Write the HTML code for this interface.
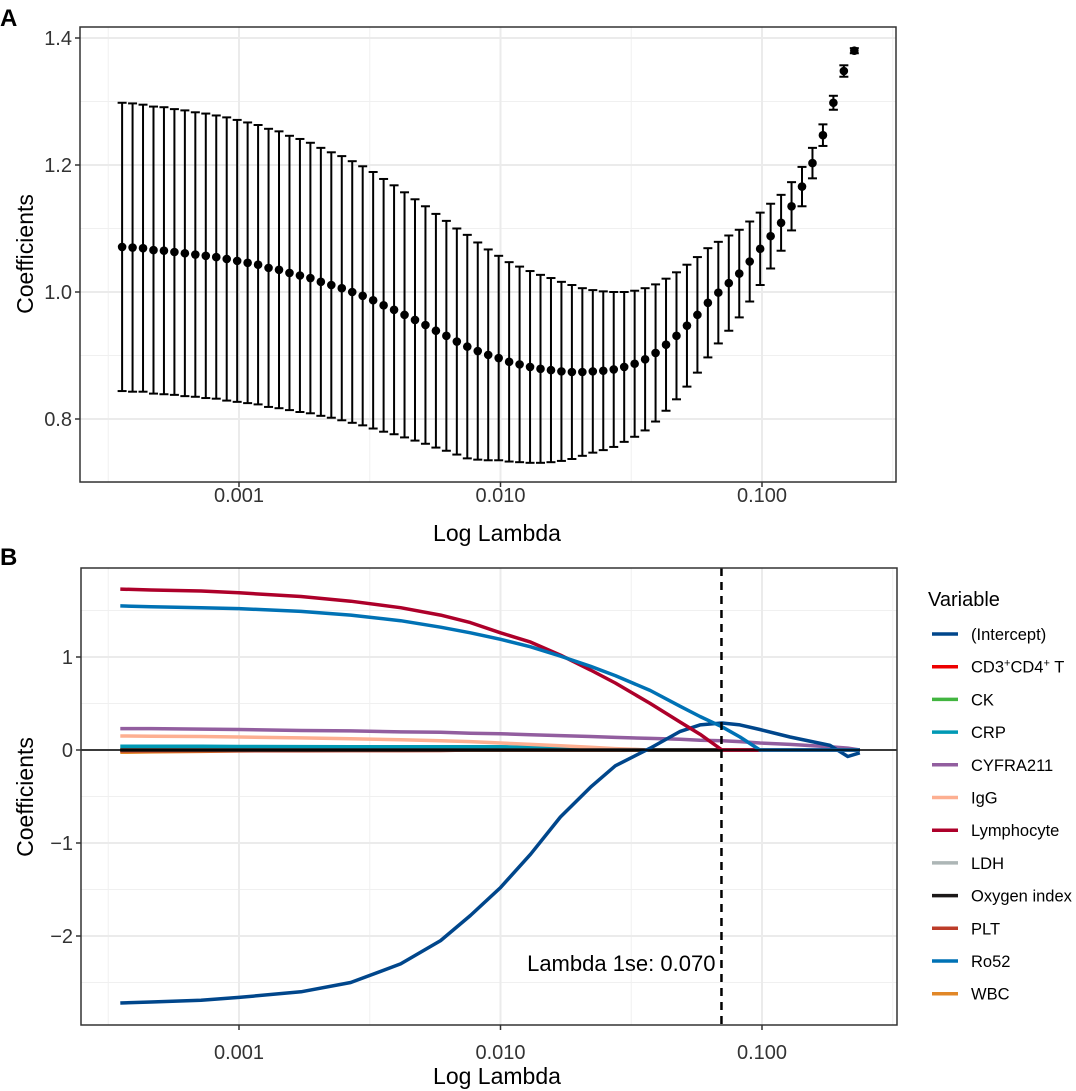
<!DOCTYPE html>
<html><head><meta charset="utf-8"><style>
body{margin:0;background:#fff;}
svg{display:block;font-family:"Liberation Sans",Arial,sans-serif;}
</style></head><body>
<svg id="chart" width="1076" height="1091" viewBox="0 0 1076 1091" xmlns="http://www.w3.org/2000/svg">
<text x="0" y="26" font-size="24" font-weight="bold">A</text>
<text x="0" y="565" font-size="24" font-weight="bold">B</text>
<g id="pa"></g>
<g id="pb"></g>
</svg>
<script>
const logLambdaA=[-3.447,-3.407,-3.367,-3.327,-3.287,-3.247,-3.207,-3.167,-3.127,-3.087,-3.047,-3.007,-2.967,-2.927,-2.887,-2.847,-2.807,-2.767,-2.727,-2.687,-2.647,-2.607,-2.567,-2.527,-2.487,-2.447,-2.407,-2.367,-2.327,-2.287,-2.247,-2.207,-2.167,-2.127,-2.087,-2.047,-2.007,-1.967,-1.927,-1.887,-1.847,-1.807,-1.767,-1.727,-1.687,-1.647,-1.607,-1.567,-1.527,-1.487,-1.447,-1.407,-1.367,-1.327,-1.287,-1.247,-1.207,-1.167,-1.127,-1.087,-1.047,-1.007,-0.967,-0.927,-0.887,-0.847,-0.807,-0.767,-0.727,-0.687,-0.647];
const cvMean=[1.071,1.070,1.069,1.066,1.065,1.063,1.061,1.059,1.057,1.055,1.052,1.049,1.046,1.043,1.038,1.035,1.030,1.026,1.022,1.016,1.011,1.006,1.000,0.994,0.987,
0.979,0.972,0.964,0.956,0.948,0.939,0.931,0.922,0.914,0.907,0.901,0.896,0.890,0.886,0.882,0.879,0.877,0.875,0.874,0.874,0.875,0.876,0.878,0.882,0.887,
0.894,0.904,0.917,0.931,0.947,0.964,0.983,0.999,1.014,1.029,1.048,1.068,1.088,1.109,1.135,1.166,1.203,1.247,1.298,1.348,1.380];
const cvSd=[.227,.227,.226,.226,.226,.225,.225,.224,.224,.223,.223,.222,.221,
.220,.219,.218,.216,.215,.213,.211,.209,.208,.206,.204,.202,
.199,.196,.193,.190,.187,
.184,.181,.178,.176,.171,.166,.161,.157,
.154,.151,.148,.145,.141,.137,.132,.128,
.125,.122,.118,.115,.112,.108,.104,.100,
.096,.091,.086,.080,.075,.069,.063,.057,
.051,.044,.038,.031,.024,.017,.011,.009,.004];
const yTicksA=[0.8,1.0,1.2,1.4];
const yTickLabelsA=["0.8","1.0","1.2","1.4"];
const xTicks=[-3,-2,-1];
const xTickLabels=["0.001","0.010","0.100"];

const logLambdaB=[-3.454,-3.336,-3.145,-3.000,-2.763,-2.573,-2.382,-2.229,-2.115,-2.000,-1.885,-1.771,-1.656,-1.561,-1.427,-1.313,-1.237,-1.153,-1.084,-1.008,-0.893,-0.740,-0.672,-0.626];
const seriesNames=["(Intercept)","CD3⁺CD4⁺ T","CK","CRP","CYFRA211","IgG","Lymphocyte","LDH","Oxygen index","PLT","Ro52","WBC"];
const seriesColors=["#00468B","#ED0000","#42B540","#0099B4","#925E9F","#FDAF91","#AD002A","#ADB6B6","#1B1919","#BC3C29","#0072B5","#E18727"];
const cIntercept=[-2.72,-2.71,-2.69,-2.66,-2.60,-2.50,-2.30,-2.05,-1.78,-1.48,-1.12,-0.72,-0.40,-0.17,0.02,0.20,0.27,0.29,0.27,0.22,0.14,0.05,-0.07,-0.03];
const cCD3=[0,0,0,0,0,0,0,0,0,0,0,0,0,0,0,0,0,0,0,0,0,0,0,0];
const cCK=[0,0,0,0,0,0,0,0,0,0,0,0,0,0,0,0,0,0,0,0,0,0,0,0];
const cCRP=[0.04,0.04,0.04,0.038,0.037,0.036,0.036,0.035,0.035,0.035,0.03,0.025,0.02,0.01,0,0,0,0,0,0,0,0,0,0];
const cCYFRA=[0.23,0.23,0.225,0.22,0.21,0.205,0.195,0.19,0.18,0.175,0.165,0.155,0.145,0.135,0.125,0.115,0.105,0.10,0.09,0.075,0.06,0.035,0.02,0];
const cIgG=[0.15,0.148,0.145,0.14,0.13,0.12,0.11,0.10,0.09,0.075,0.06,0.045,0.03,0.015,0,0,0,0,0,0,0,0,0,0];
const cLymph=[1.73,1.72,1.71,1.69,1.65,1.60,1.53,1.45,1.37,1.26,1.16,1.02,0.86,0.72,0.50,0.30,0.17,0,0,0,0,0,0,0];
const cLDH=[0,0,0,0,0,0,0,0,0,0,0,0,0,0,0,0,0,0,0,0,0,0,0,0];
const cOxygen=[0,0,0,0,0,0,0,0,0,0,0,0,0,0,0,0,0,0,0,0,0,0,0,0];
const cPLT=[-0.01,-0.01,-0.008,-0.008,-0.007,-0.006,-0.006,-0.005,0,0,0,0,0,0,0,0,0,0,0,0,0,0,0,0];
const cRo52=[1.55,1.54,1.53,1.52,1.49,1.45,1.39,1.32,1.26,1.19,1.11,1.01,0.90,0.80,0.64,0.47,0.36,0.25,0.14,0,0,0,0,0];
const cWBC=[-0.025,-0.02,-0.015,-0.01,-0.005,0,0,0,0,0,0,0,0,0,0,0,0,0,0,0,0,0,0,0];
const yTicksB=[-2,-1,0,1];
const yTickLabelsB=["−2","−1","0","1"];
const lambda1se=-1.155;

const NS="http://www.w3.org/2000/svg";
function mk(parent,tag,attrs){const e=document.createElementNS(NS,tag);for(const k in attrs)e.setAttribute(k,attrs[k]);parent.appendChild(e);return e;}
function xS(l){return 500.5+(l+2)*261.5;}
const TICK=20, TITLE=23;
// Panel A
const pa=document.getElementById('pa');
const A={l:80,r:896,t:27,b:482};
function yA(v){return 38+(1.4-v)*635;}
[0.7,0.9,1.1,1.3].forEach(v=>{const g=mk(pa,'line',{x1:A.l,x2:A.r,y1:yA(v),y2:yA(v),stroke:'#f0f0f0','stroke-width':1});

});
[-3.5,-2.5,-1.5,-0.5].forEach(v=>{const g=mk(pa,'line',{x1:xS(v),x2:xS(v),y1:A.t,y2:A.b,stroke:'#f0f0f0','stroke-width':1});

});
yTicksA.forEach(v=>{const g=mk(pa,'line',{x1:A.l,x2:A.r,y1:yA(v),y2:yA(v),stroke:'#ebebeb','stroke-width':2});

});
xTicks.forEach(v=>{const g=mk(pa,'line',{x1:xS(v),x2:xS(v),y1:A.t,y2:A.b,stroke:'#ebebeb','stroke-width':2});

});
logLambdaA.forEach((l,i)=>{const x=xS(l),m=cvMean[i],s=cvSd[i];
const g=mk(pa,'g',{});


mk(g,'line',{x1:x,x2:x,y1:yA(m+s),y2:yA(m-s),stroke:'#000','stroke-width':2});
mk(g,'line',{x1:x-4.5,x2:x+4.5,y1:yA(m+s),y2:yA(m+s),stroke:'#000','stroke-width':2});
mk(g,'line',{x1:x-4.5,x2:x+4.5,y1:yA(m-s),y2:yA(m-s),stroke:'#000','stroke-width':2});
const c=mk(g,'circle',{cx:x,cy:yA(m),r:4.3,fill:'#000'});

});
const fa=mk(pa,'rect',{x:A.l,y:A.t,width:A.r-A.l,height:A.b-A.t,fill:'none',stroke:'#333','stroke-width':1.5});


yTicksA.forEach((v,i)=>{mk(pa,'line',{x1:A.l-5,x2:A.l,y1:yA(v),y2:yA(v),stroke:'#333','stroke-width':1.5});
const t=mk(pa,'text',{x:A.l-8,y:yA(v)+7,'text-anchor':'end','font-size':TICK,fill:'#333'});t.textContent=yTickLabelsA[i];

});
xTicks.forEach((v,i)=>{mk(pa,'line',{x1:xS(v),x2:xS(v),y1:A.b,y2:A.b+5,stroke:'#333','stroke-width':1.5});
const t=mk(pa,'text',{x:xS(v),y:A.b+20,'text-anchor':'middle','font-size':TICK,fill:'#333'});t.textContent=xTickLabels[i];

});
let t=mk(pa,'text',{x:497,y:541,'text-anchor':'middle','font-size':TITLE});t.textContent='Log Lambda';


t=mk(pa,'text',{x:0,y:0,'text-anchor':'middle','font-size':TITLE,transform:'translate(33,254) rotate(-90)'});t.textContent='Coefficients';



// Panel B
const pb=document.getElementById('pb');
const B={l:81,r:897,t:568,b:1025};
function yB(v){return 750-v*93;}
[-2.5,-1.5,-0.5,0.5,1.5].forEach(v=>{const g=mk(pb,'line',{x1:B.l,x2:B.r,y1:yB(v),y2:yB(v),stroke:'#f0f0f0','stroke-width':1});

});
[-3.5,-2.5,-1.5,-0.5].forEach(v=>{const g=mk(pb,'line',{x1:xS(v),x2:xS(v),y1:B.t,y2:B.b,stroke:'#f0f0f0','stroke-width':1});

});
yTicksB.forEach(v=>{const g=mk(pb,'line',{x1:B.l,x2:B.r,y1:yB(v),y2:yB(v),stroke:'#ebebeb','stroke-width':2});

});
xTicks.forEach(v=>{const g=mk(pb,'line',{x1:xS(v),x2:xS(v),y1:B.t,y2:B.b,stroke:'#ebebeb','stroke-width':2});

});
const seriesData=[cIntercept,cCD3,cCK,cCRP,cCYFRA,cIgG,cLymph,cLDH,cOxygen,cPLT,cRo52,cWBC];
const drawOrder=[1,2,7,11,9,3,5,4,8,0,6,10];
drawOrder.forEach(k=>{const d=seriesData[k];
const pts=logLambdaB.map((l,i)=>xS(l).toFixed(1)+','+yB(d[i]).toFixed(1)).join(' ');
const p=mk(pb,'polyline',{points:pts,fill:'none',stroke:seriesColors[k],'stroke-width':3.5,'stroke-linejoin':'round'});

});
let h=mk(pb,'line',{x1:B.l,x2:B.r,y1:yB(0),y2:yB(0),stroke:'#000','stroke-width':1.5});


h=mk(pb,'line',{x1:xS(lambda1se),x2:xS(lambda1se),y1:B.t,y2:B.b,stroke:'#000','stroke-width':2.5,'stroke-dasharray':'8,6'});


t=mk(pb,'text',{x:xS(lambda1se)-6,y:971,'text-anchor':'end','font-size':22});t.textContent='Lambda 1se: 0.070';


const fb=mk(pb,'rect',{x:B.l,y:B.t,width:B.r-B.l,height:B.b-B.t,fill:'none',stroke:'#333','stroke-width':1.5});


yTicksB.forEach((v,i)=>{mk(pb,'line',{x1:B.l-5,x2:B.l,y1:yB(v),y2:yB(v),stroke:'#333','stroke-width':1.5});
const tt=mk(pb,'text',{x:B.l-8,y:yB(v)+7,'text-anchor':'end','font-size':TICK,fill:'#333'});tt.textContent=yTickLabelsB[i];

});
xTicks.forEach((v,i)=>{mk(pb,'line',{x1:xS(v),x2:xS(v),y1:B.b,y2:B.b+5,stroke:'#333','stroke-width':1.5});
const tt=mk(pb,'text',{x:xS(v),y:B.b+34,'text-anchor':'middle','font-size':TICK,fill:'#333'});tt.textContent=xTickLabels[i];

});
t=mk(pb,'text',{x:497,y:1084,'text-anchor':'middle','font-size':TITLE});t.textContent='Log Lambda';


t=mk(pb,'text',{x:0,y:0,'text-anchor':'middle','font-size':TITLE,transform:'translate(33,797) rotate(-90)'});t.textContent='Coefficients';


// Legend
const lg=mk(pb,'g',{});


t=mk(lg,'text',{x:928,y:606,'font-size':20});t.textContent='Variable';


seriesNames.forEach((n,i)=>{const y=634+i*32.7;
const e=mk(lg,'g',{});


mk(e,'line',{x1:932,x2:958,y1:y,y2:y,stroke:seriesColors[i],'stroke-width':3.5});
const tx=mk(e,'text',{x:971,y:y+6,'font-size':16.5});
if(i===1){tx.innerHTML='CD3<tspan dy="-6" font-size="11">+</tspan><tspan dy="6">CD4</tspan><tspan dy="-6" font-size="11">+</tspan><tspan dy="6"> T</tspan>';}
else tx.textContent=n;});
</script>
</body></html>
